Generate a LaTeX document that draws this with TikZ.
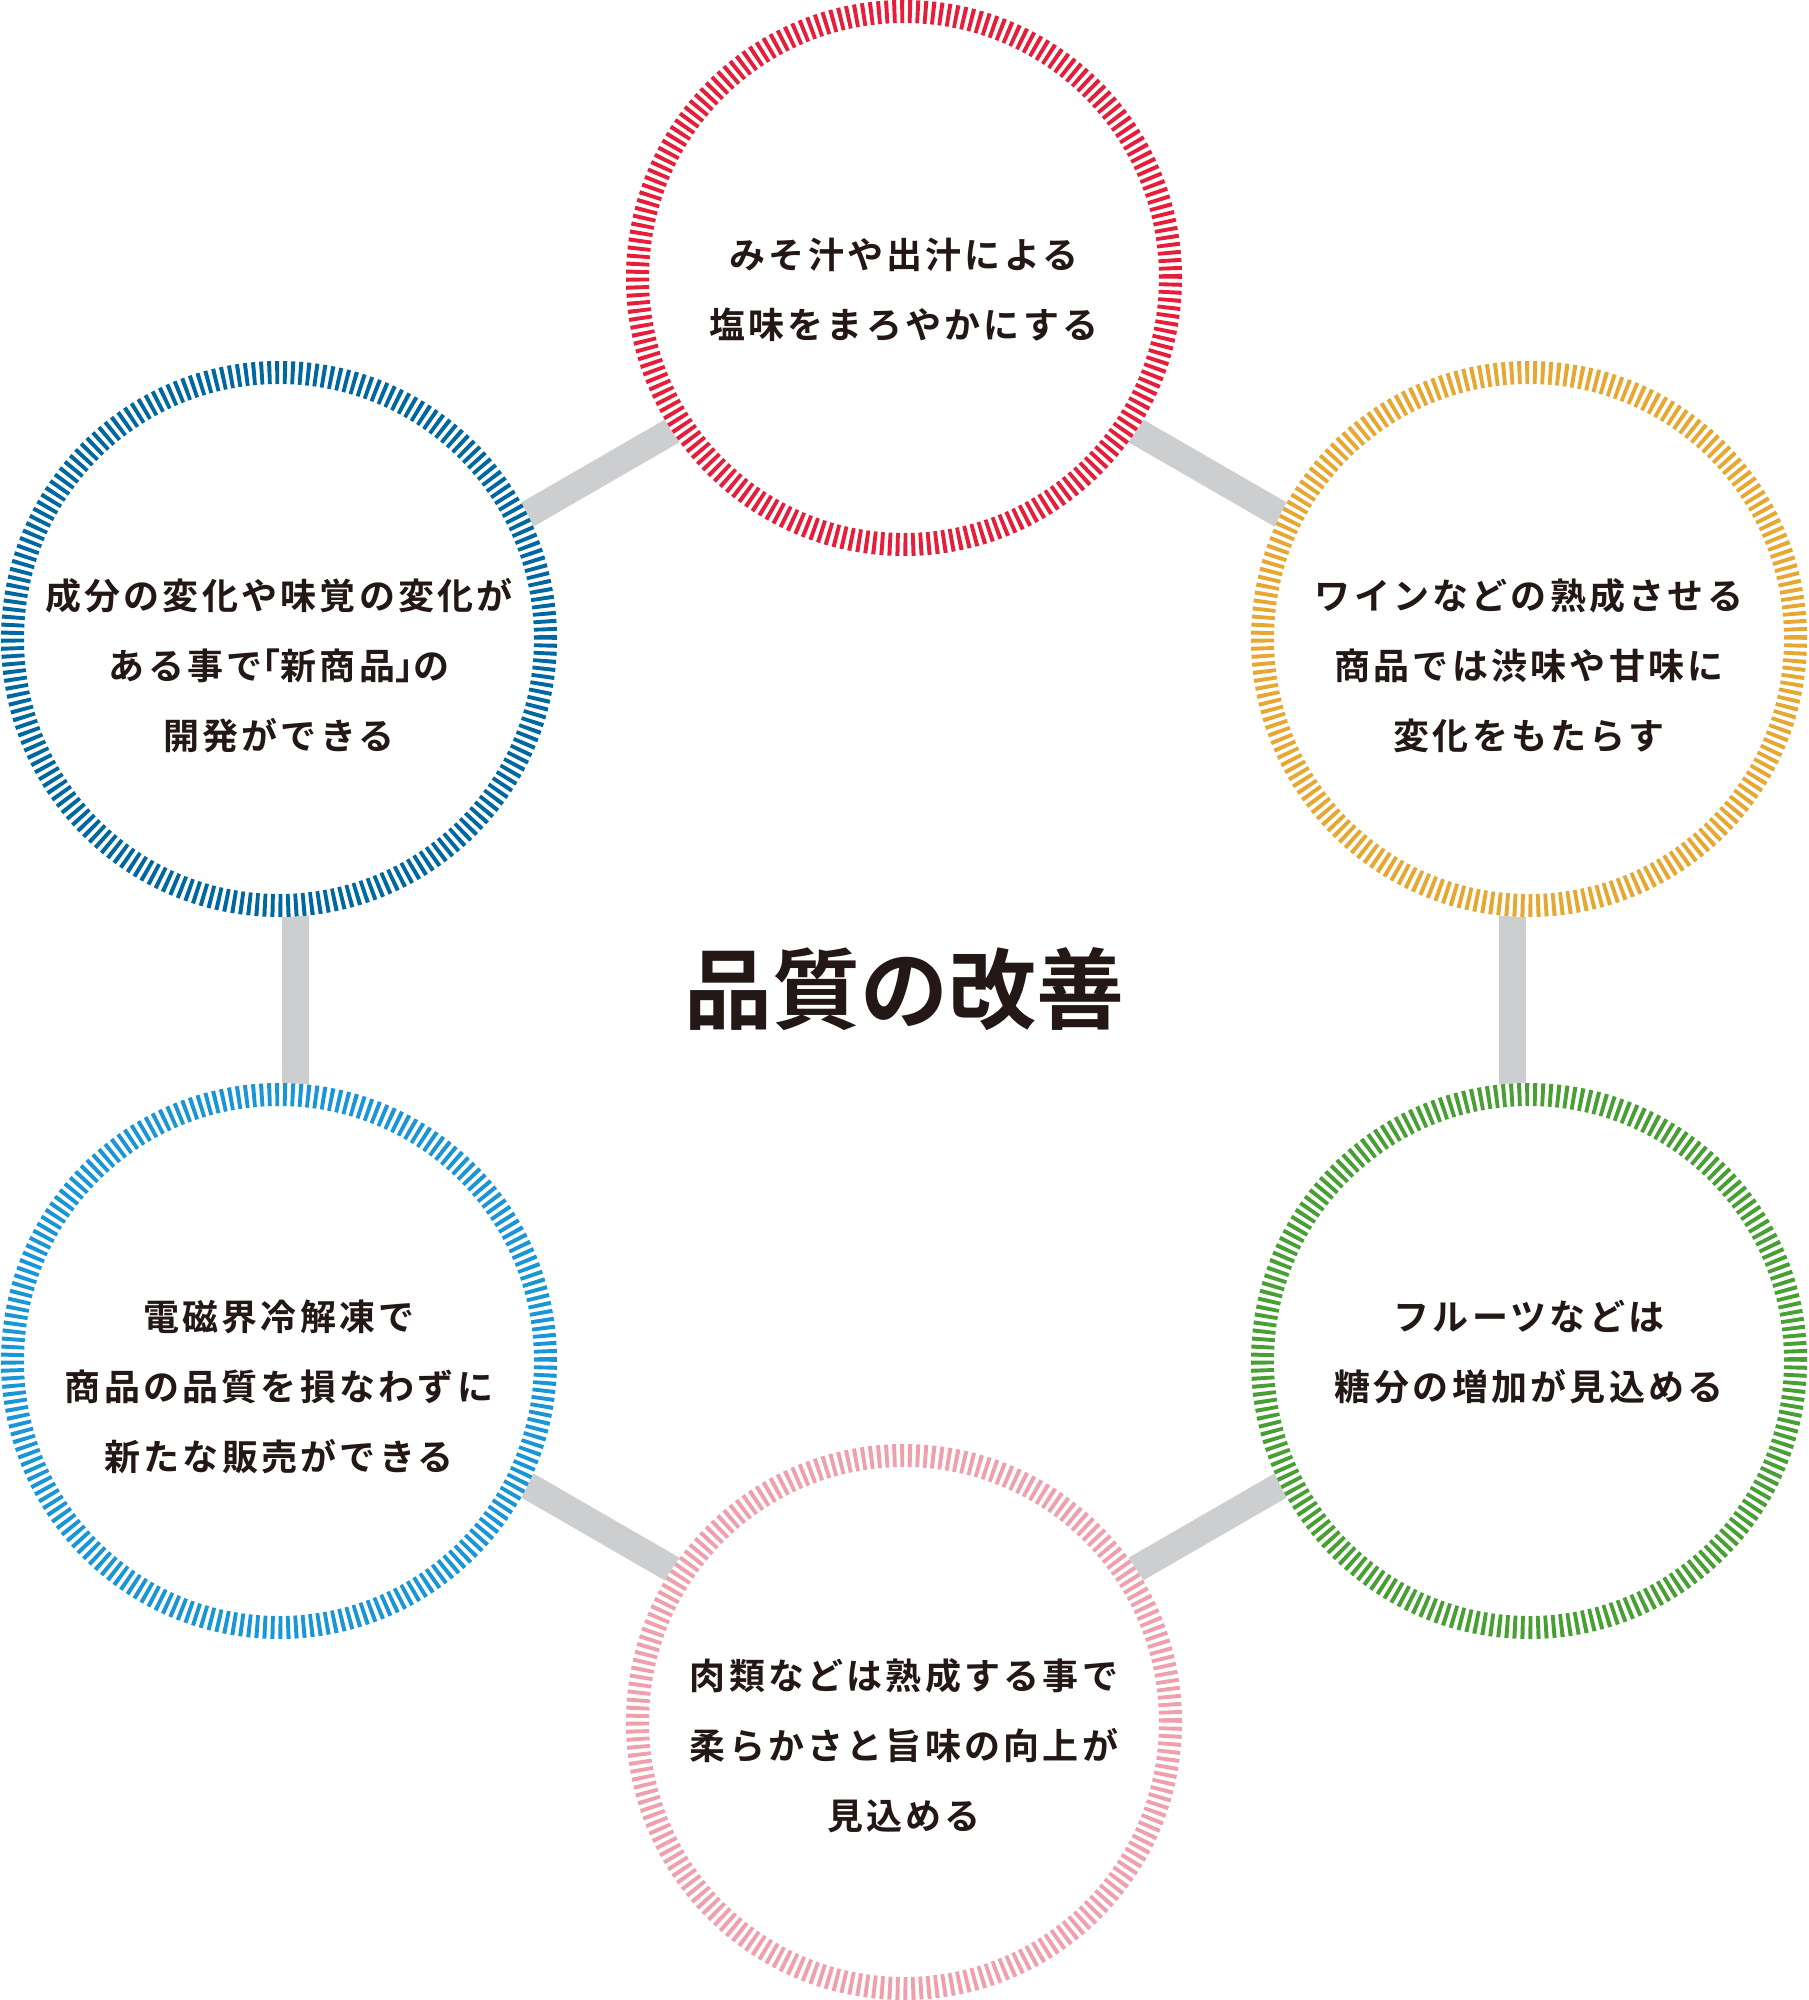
\documentclass[tikz,border=0pt]{standalone}
\usepackage{fontspec}
\setmainfont{Noto Sans CJK JP}[BoldFont={Noto Sans CJK JP Bold}]
\usetikzlibrary{calc,backgrounds}
\definecolor{rosso}{RGB}{230,30,58}
\definecolor{oro}{RGB}{230,168,50}
\definecolor{blu}{RGB}{0,104,160}
\definecolor{verde}{RGB}{72,160,52}
\definecolor{celeste}{RGB}{26,150,215}
\definecolor{rosa}{RGB}{240,160,172}
\definecolor{grigio}{RGB}{205,206,208}
\definecolor{nero}{RGB}{35,24,21}
\newcommand{\mezzo}[1]{{\addfontfeature{RawFeature=+halt}#1}}
\begin{document}
\begin{tikzpicture}[x=1pt, y=1pt,
    cerchio/.style={circle, minimum size=533pt, inner sep=0pt, line width=23pt, draw=#1,
        dash pattern=on 3.9pt off 3.85pt, preaction={draw=white, solid, fill=white}},
    barra/.style={line width=27pt, grigio},
    testo/.style={align=center, text=nero, font=\bfseries\fontsize{36}{70}\selectfont\addfontfeature{LetterSpace=9}},
    titolo/.style={text=nero, font=\bfseries\fontsize{88}{100}\selectfont}]
    \useasboundingbox (0,0) rectangle (1808,-2000);
    \coordinate (hub) at (904,-1000);
    %disegno titolo
    \node[titolo] (titolo) at (904,-989) {品質の改善};
    %%%%%%%%%%%%%%%%%%%%%%%%%%%%%%%%%%%%%%%%%%%%%%%%%%%%%%%%%%%%%%%%%%%%%%%%%%
    %disegno cerchio rosso
    \node[cerchio=rosso] (miso) at (904,-278) {};
    \node[testo] (tmiso) at (904,-290) {みそ汁や出汁による\\塩味をまろやかにする};
    %disegno cerchio oro
    \node[cerchio=oro] (vino) at (1529,-639) {};
    \node[testo] (tvino) at (1529,-666) {ワインなどの熟成させる\\商品では渋味や甘味に\\変化をもたらす};
    %disegno cerchio verde
    \node[cerchio=verde] (frutta) at (1529,-1361) {};
    \node[testo] (tfrutta) at (1529,-1352) {フルーツなどは\\糖分の増加が見込める};
    %disegno cerchio rosa
    \node[cerchio=rosa] (carne) at (904,-1722) {};
    \node[testo] (tcarne) at (904,-1746) {肉類などは熟成する事で\\柔らかさと旨味の向上が\\見込める};
    %disegno cerchio celeste
    \node[cerchio=celeste] (scongelo) at (279,-1361) {};
    \node[testo] (tscongelo) at (279,-1387) {電磁界冷解凍で\\商品の品質を損なわずに\\新たな販売ができる};
    %disegno cerchio blu
    \node[cerchio=blu] (prodotto) at (279,-639) {};
    \node[testo] (tprodotto) at (279,-666) {成分の変化や味覚の変化が\\ある事で\mezzo{「}新商品\mezzo{」}の\\開発ができる};
    %%%%%%%%%%%%%%%%%%%%%%%%%%%%%%%%%%%%%%%%%%%%%%%%%%%%%%%%%%%%%%%%%%%%%%%%%%
    %disegno barre
    \begin{scope}[on background layer]
    \draw[barra] ($(miso.center)!19pt!(hub)$) -- ($(vino.center)!19pt!(hub)$);
    \draw[barra] ($(vino.center)!19pt!(hub)$) -- ($(frutta.center)!19pt!(hub)$);
    \draw[barra] ($(frutta.center)!19pt!(hub)$) -- ($(carne.center)!19pt!(hub)$);
    \draw[barra] ($(carne.center)!19pt!(hub)$) -- ($(scongelo.center)!19pt!(hub)$);
    \draw[barra] ($(scongelo.center)!19pt!(hub)$) -- ($(prodotto.center)!19pt!(hub)$);
    \draw[barra] ($(prodotto.center)!19pt!(hub)$) -- ($(miso.center)!19pt!(hub)$);
    \end{scope}
\end{tikzpicture}
\end{document}
